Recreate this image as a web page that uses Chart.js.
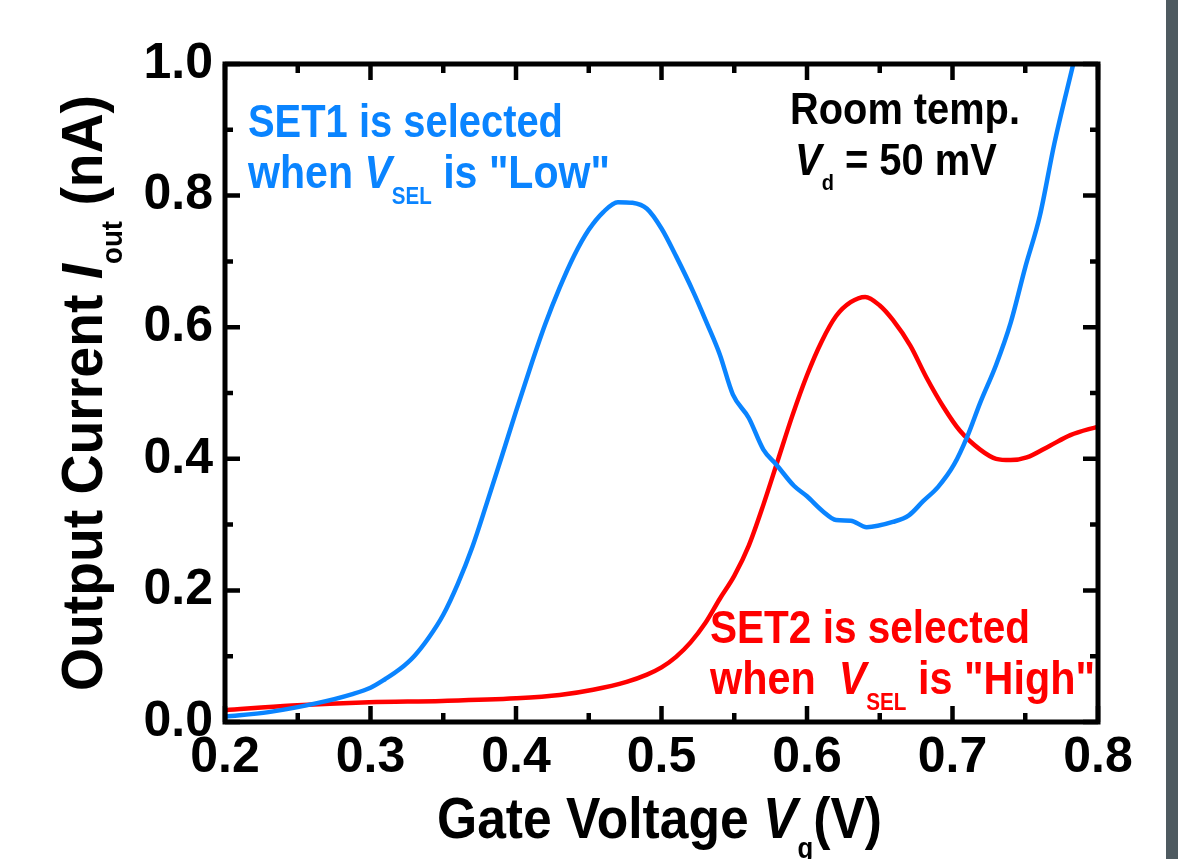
<!DOCTYPE html>
<html>
<head>
<meta charset="utf-8">
<script src="https://cdn.jsdelivr.net/npm/chart.js@4.4.1/dist/chart.umd.min.js"></script>
<style>
  html, body { margin: 0; padding: 0; background: #ffffff; }
  #wrap { position: relative; width: 1189px; height: 859px; overflow: hidden; }
  #bar { position: absolute; left: 1166px; top: 0; width: 12px; height: 859px; background: #4e5a60; }
</style>
</head>
<body>
<div id="wrap">
  <canvas id="c" width="1189" height="859"></canvas>
  <div id="bar"></div>
</div>
<script>
// ---- Data ----
const set1Voltage = [0.200,0.230,0.264,0.287,0.300,0.310,0.320,0.330,0.340,0.350,0.360,0.370,0.380,0.390,0.400,0.410,0.420,0.430,0.440,0.450,0.460,0.470,0.480,0.490,0.500,0.510,0.522,0.531,0.540,0.549,0.560,0.570,0.579,0.591,0.600,0.611,0.620,0.630,0.641,0.659,0.670,0.680,0.690,0.701,0.710,0.719,0.730,0.740,0.750,0.760,0.770,0.783];
const set1Current = [0.008,0.015,0.029,0.042,0.052,0.065,0.080,0.100,0.128,0.163,0.210,0.266,0.333,0.402,0.472,0.540,0.604,0.660,0.709,0.748,0.775,0.790,0.789,0.780,0.750,0.708,0.653,0.607,0.559,0.498,0.462,0.414,0.391,0.359,0.343,0.320,0.307,0.306,0.296,0.304,0.314,0.336,0.357,0.391,0.433,0.485,0.543,0.607,0.691,0.769,0.879,1.000];
const set2Voltage = [0.200,0.246,0.299,0.349,0.400,0.430,0.453,0.476,0.490,0.500,0.510,0.520,0.530,0.540,0.550,0.560,0.570,0.580,0.590,0.600,0.610,0.620,0.630,0.640,0.650,0.659,0.671,0.682,0.694,0.705,0.719,0.730,0.740,0.751,0.767,0.781,0.800];
const set2Current = [0.018,0.025,0.030,0.032,0.036,0.041,0.049,0.061,0.072,0.083,0.099,0.121,0.150,0.187,0.222,0.268,0.330,0.398,0.466,0.527,0.578,0.617,0.638,0.646,0.633,0.611,0.572,0.524,0.478,0.443,0.414,0.400,0.398,0.402,0.420,0.436,0.449];

const xMajorTicks = [0.2,0.3,0.4,0.5,0.6,0.7,0.8];
const xMinorTicks = [0.25,0.35,0.45,0.55,0.65,0.75];
const yMajorTicks = [0.0,0.2,0.4,0.6,0.8,1.0];
const yMinorTicks = [0.1,0.3,0.5,0.7,0.9];

const BLUE = '#0a84ff';
const RED = '#ff0000';
const FONT = '"Liberation Sans", Arial, Helvetica, sans-serif';

// ---- rich text helper (normal / italic / subscript runs, horizontally fitted) ----
function drawRich(ctx, runs, x, y, width, size, color, rotate) {
  const subSize = size * 0.5, subShift = size * 0.34;
  const fontOf = r => (r.i ? 'italic ' : '') + 'bold ' + (r.s ? subSize : size) + 'px ' + FONT;
  let natural = 0;
  runs.forEach(r => { ctx.font = fontOf(r); natural += ctx.measureText(r.t).width; });
  const sx = width / natural;
  ctx.save();
  ctx.translate(x, y);
  if (rotate) ctx.rotate(-Math.PI / 2);
  ctx.scale(sx, 1);
  ctx.fillStyle = color;
  ctx.textBaseline = 'alphabetic';
  ctx.textAlign = 'left';
  let cx = 0;
  runs.forEach(r => {
    ctx.font = fontOf(r);
    ctx.fillText(r.t, cx, r.s ? subShift : 0);
    cx += ctx.measureText(r.t).width;
  });
  ctx.restore();
}

const framePlugin = {
  id: 'frame',
  afterDatasetsDraw(chart) {
    const ctx = chart.ctx, a = chart.chartArea;
    const xs = chart.scales.x, ys = chart.scales.y;
    ctx.save();
    ctx.strokeStyle = '#000';
    ctx.lineCap = 'butt';
    ctx.lineWidth = 4.5;
    const tick = (v, len, axis) => {
      ctx.beginPath();
      if (axis === 'x') {
        const p = xs.getPixelForValue(v);
        ctx.moveTo(p, a.bottom); ctx.lineTo(p, a.bottom - len);
        ctx.moveTo(p, a.top); ctx.lineTo(p, a.top + len);
      } else {
        const p = ys.getPixelForValue(v);
        ctx.moveTo(a.left, p); ctx.lineTo(a.left + len, p);
        ctx.moveTo(a.right, p); ctx.lineTo(a.right - len, p);
      }
      ctx.stroke();
    };
    xMajorTicks.forEach(v => tick(v, 16, 'x'));
    xMinorTicks.forEach(v => tick(v, 9, 'x'));
    yMajorTicks.forEach(v => tick(v, 15, 'y'));
    yMinorTicks.forEach(v => tick(v, 8, 'y'));
    ctx.lineWidth = 5;
    ctx.lineJoin = 'miter';
    ctx.strokeRect(a.left, a.top, a.right - a.left, a.bottom - a.top);
    ctx.restore();

    drawRich(ctx, [{t:'SET1 is selected'}], 248, 137, 315, 47, BLUE);
    drawRich(ctx, [{t:'when '},{t:'V',i:1},{t:'SEL',s:1},{t:' is "Low"'}], 248, 188, 362, 47, BLUE);
    drawRich(ctx, [{t:'Room temp.'}], 790, 124, 230, 44, '#000');
    drawRich(ctx, [{t:'V',i:1},{t:'d',s:1},{t:' = 50 mV'}], 795, 175, 202, 44, '#000');
    drawRich(ctx, [{t:'SET2 is selected'}], 710, 643, 320, 47, RED);
    drawRich(ctx, [{t:'when  '},{t:'V',i:1},{t:'SEL',s:1},{t:' is "High"'}], 710, 694, 385, 47, RED);
    drawRich(ctx, [{t:'Gate Voltage '},{t:'V',i:1},{t:'g',s:1},{t:'(V)'}], 437, 838, 445, 58, '#000');
    drawRich(ctx, [{t:'Output Current '},{t:'I',i:1},{t:'out',s:1},{t:' (nA)'}], 102, 691, 596, 58, '#000', true);
  }
};

const toPoints = (xs, ys) => xs.map((v, i) => ({x: v, y: ys[i]}));

new Chart(document.getElementById('c'), {
  type: 'scatter',
  data: {
    datasets: [
      { label: 'SET1', data: toPoints(set1Voltage, set1Current), showLine: true, borderColor: BLUE, borderWidth: 4.5, pointRadius: 0, cubicInterpolationMode: 'monotone', fill: false },
      { label: 'SET2', data: toPoints(set2Voltage, set2Current), showLine: true, borderColor: RED, borderWidth: 4.5, pointRadius: 0, cubicInterpolationMode: 'monotone', fill: false }
    ]
  },
  options: {
    responsive: false,
    devicePixelRatio: 1,
    animation: false,
    layout: { padding: { top: 64, right: 91, left: 0, bottom: 0 } },
    plugins: { legend: { display: false }, tooltip: { enabled: false }, title: { display: false } },
    scales: {
      x: {
        type: 'linear', min: 0.2, max: 0.8,
        afterFit: s => { s.height = 137; },
        afterBuildTicks: s => { s.ticks = xMajorTicks.map(v => ({value: v})); },
        grid: { display: false, drawTicks: false },
        border: { display: false },
        ticks: { padding: 6, color: '#000', font: { family: FONT, weight: 'bold', size: 50 }, callback: v => Number(v).toFixed(1), maxRotation: 0, autoSkip: false }
      },
      y: {
        type: 'linear', min: 0, max: 1,
        afterFit: s => { s.width = 225; },
        afterBuildTicks: s => { s.ticks = yMajorTicks.map(v => ({value: v})); },
        grid: { display: false, drawTicks: false },
        border: { display: false },
        ticks: { padding: 12, color: '#000', font: { family: FONT, weight: 'bold', size: 50 }, callback: v => Number(v).toFixed(1), autoSkip: false }
      }
    }
  },
  plugins: [framePlugin]
});
</script>
</body>
</html>
